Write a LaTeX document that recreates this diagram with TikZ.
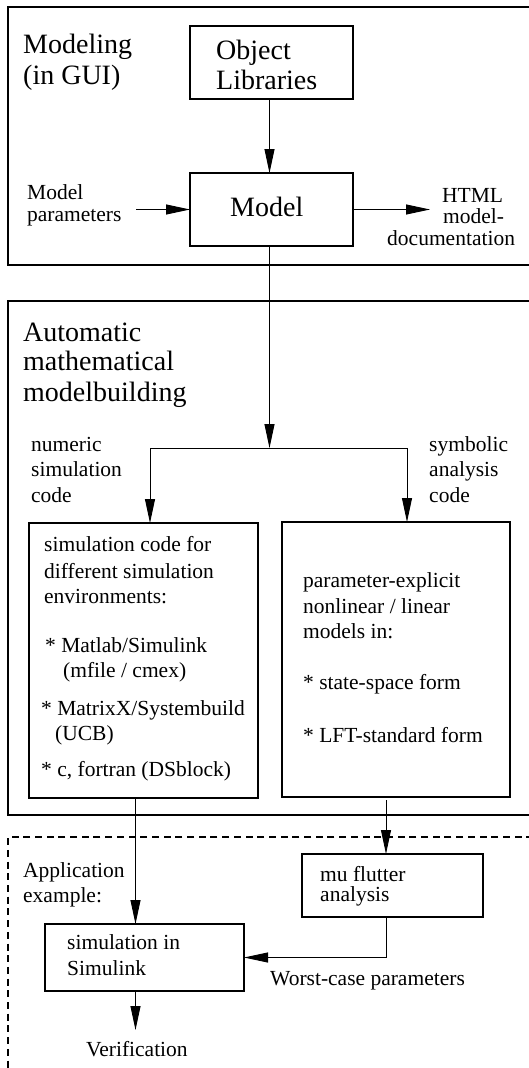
\documentclass[tikz,border=0pt]{standalone}
\usepackage{fontspec}
\setmainfont{Liberation Serif}
\usetikzlibrary{arrows.meta}

\tikzset{
  frame/.style={line width=1.1pt},
  blk/.style={draw, line width=1.1pt, inner sep=0pt, outer sep=0pt},
  conn/.style={line width=0.9pt},
  arr/.style={conn, -{Triangle[length=24pt,width=10pt]}},
  big/.style={anchor=base west, inner sep=0pt, font=\fontsize{28}{31}\selectfont},
  lbl/.style={anchor=base west, inner sep=0pt, font=\fontsize{21.5}{25}\selectfont},
}

\begin{document}
\begin{tikzpicture}[x=1pt,y=-1pt]
\useasboundingbox (0,0) rectangle (529,1068);
\clip (0,0) rectangle (529,1068);

% section frames (open to the right / bottom)
\draw[frame] (545,7) -- (8,7) -- (8,265) -- (545,265);
\draw[frame] (545,301) -- (8,301) -- (8,815) -- (545,815);
\draw[frame, dash pattern=on 7pt off 4.7pt] (545,837) -- (8,837) -- (8,1080);

% blocks
\node[blk, minimum width=163pt, minimum height=73pt] (objlib) at (271.5,62.5) {};
\node[blk, minimum width=163pt, minimum height=73pt] (model) at (271.5,209.5) {};
\node[blk, minimum width=229pt, minimum height=275pt] (simcode) at (143.5,660.5) {};
\node[blk, minimum width=228pt, minimum height=275pt] (symcode) at (396,659.5) {};
\node[blk, minimum width=181pt, minimum height=63pt] (mu) at (392.5,885.5) {};
\node[blk, minimum width=199pt, minimum height=67pt] (simlink) at (144.5,957.5) {};

% headings
\node[big] (h1a) at (23,53) {Modeling};
\node[big] (h1b) at (23,84) {(in GUI)};
\node[big] (h2a) at (23,341.7) {Automatic};
\node[big] (h2b) at (23,370.7) {mathematical};
\node[big] (h2c) at (23,401.7) {modelbuilding};
\node[lbl] (h3a) at (23,877) {Application};
\node[lbl] (h3b) at (23,902) {example:};

% block texts
\node[big] (ol1) at (216,59.3) {Object};
\node[big] (ol2) at (216,89.3) {Libraries};
\node[big] (md1) at (230,216.5) {Model};

\node[lbl] (sc1) at (44,551.7) {simulation code for};
\node[lbl] (sc2) at (44,578) {different simulation};
\node[lbl] (sc3) at (44,603) {environments:};
\node[lbl] (sc4) at (45,652) {* Matlab/Simulink};
\node[lbl] (sc5) at (63,677) {(mfile / cmex)};
\node[lbl] (sc6) at (41,715) {* MatrixX/Systembuild};
\node[lbl] (sc7) at (55,740) {(UCB)};
\node[lbl] (sc8) at (41,776.5) {* c, fortran (DSblock)};

\node[lbl] (sy1) at (303,587) {parameter-explicit};
\node[lbl] (sy2) at (303,613) {nonlinear / linear};
\node[lbl] (sy3) at (303,638.5) {models in:};
\node[lbl] (sy4) at (303,689) {* state-space form};
\node[lbl] (sy5) at (303,742) {* LFT-standard form};

\node[lbl] (mu1) at (320,881.5) {mu flutter};
\node[lbl] (mu2) at (320,901.5) {analysis};
\node[lbl] (sl1) at (67,949.3) {simulation in};
\node[lbl] (sl2) at (67,975.7) {Simulink};

% side labels
\node[lbl] (mp1) at (27,199) {Model};
\node[lbl] (mp2) at (27,221.7) {parameters};
\node[lbl] (ht1) at (442,202) {HTML};
\node[lbl] (ht2) at (443,223.5) {model-};
\node[lbl] (ht3) at (387,245) {documentation};
\node[lbl] (nu1) at (31,451.7) {numeric};
\node[lbl] (nu2) at (31,476.7) {simulation};
\node[lbl] (nu3) at (31,502.3) {code};
\node[lbl] (sb1) at (429,451.7) {symbolic};
\node[lbl] (sb2) at (429,476.7) {analysis};
\node[lbl] (sb3) at (429,502.3) {code};
\node[lbl] (wc) at (270,985.7) {Worst-case parameters};
\node[lbl] (ver) at (86,1056) {Verification};

% connector guides
\coordinate (spine) at (269.5,0);
\coordinate (split) at (269.5,448);
\coordinate (lx) at (150,0);
\coordinate (rx) at (407,0);
\coordinate (ax) at (135.5,0);
\coordinate (mx) at (386,0);
\coordinate (mpin) at (136,209.5);
\coordinate (htmlin) at (430,209.5);
\coordinate (verin) at (135.5,1030);

% connectors
\draw[arr] (spine |- objlib.south) -- (spine |- model.north);
\draw[arr] (mpin) -- (model.west);
\draw[arr] (model.east) -- (htmlin);
\draw[arr] (spine |- model.south) -- (split);
\draw[arr] (split) -| (lx |- simcode.north);
\draw[arr] (split) -| (rx |- symcode.north);
\draw[arr] (ax |- simcode.south) -- (ax |- simlink.north);
\draw[arr] ([yshift=-3pt]mx |- symcode.south) -- (mx |- mu.north);
\draw[arr] (mx |- mu.south) |- (simlink.east);
\draw[arr] (ax |- simlink.south) -- (verin);
\end{tikzpicture}
\end{document}
